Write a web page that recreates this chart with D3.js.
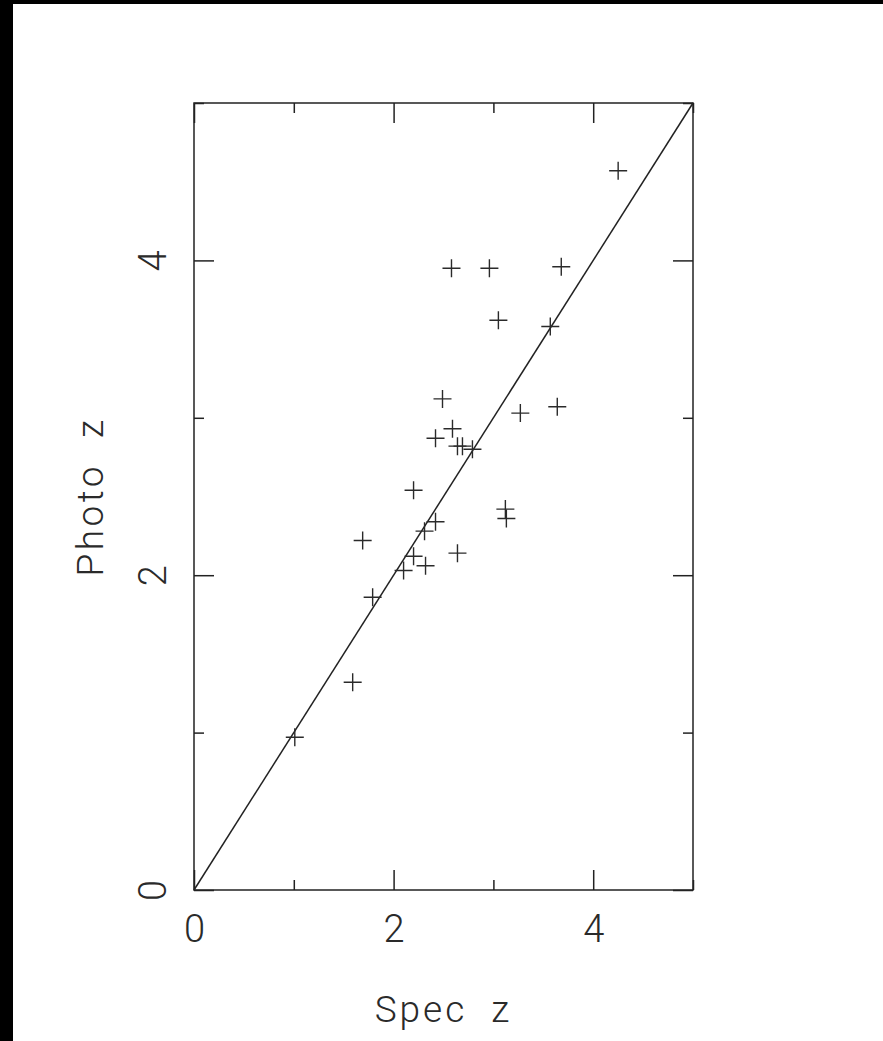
<!DOCTYPE html>
<html>
<head>
<meta charset="utf-8">
<script src="https://cdn.jsdelivr.net/npm/d3@7"></script>
<style>
  html, body { margin: 0; padding: 0; background: #fff; }
  svg { display: block; }
  text { font-family: Roboto, "Open Sans", sans-serif; font-weight: 300; fill: #2a2a2a; }
</style>
</head>
<body>
<div id="chart"></div>
<script>
// spectroscopic vs photometric redshift
const specZ  = [4.25, 2.58, 2.96, 3.68, 3.05, 3.57, 2.49, 3.64, 3.27, 2.59,
                2.42, 2.64, 2.69, 2.79, 2.20, 1.69, 3.12, 3.13, 2.42, 2.31,
                2.64, 2.20, 2.32, 2.10, 1.79, 1.59, 1.01]
const photoZ = [4.57, 3.95, 3.95, 3.96, 3.62, 3.58, 3.12, 3.07, 3.03, 2.93,
                2.87, 2.82, 2.82, 2.80, 2.54, 2.22, 2.42, 2.36, 2.34, 2.28,
                2.14, 2.12, 2.06, 2.03, 1.86, 1.32, 0.97]
const majorTicks = [0, 2, 4]
const minorTicks = [1, 3, 5]
const domain = [0, 5]

const W = 883, H = 1041
const margin = {top: 103, left: 194, right: 190, bottom: 151}
const w = W - margin.left - margin.right,
      h = H - margin.top - margin.bottom

const svg = d3.select("#chart").append("svg")
    .attr("width", W)
    .attr("height", H)

// black frame strips at top and left of the page
svg.append("rect").attr("x", 0).attr("y", 0).attr("width", W).attr("height", 4).attr("fill", "#000")
svg.append("rect").attr("x", 0).attr("y", 0).attr("width", 13).attr("height", H).attr("fill", "#000")

const g = svg.append("g")
    .attr("transform", `translate(${margin.left}, ${margin.top})`)

const x = d3.scaleLinear().domain(domain).range([0, w])
const y = d3.scaleLinear().domain(domain).range([h, 0])

// box
g.append("rect")
    .attr("x", 0).attr("y", 0)
    .attr("width", w).attr("height", h)
    .attr("fill", "none")
    .attr("stroke", "#222")
    .attr("stroke-width", 1.5)

function styleAxis(sel) {
    sel.select(".domain").remove()
    sel.selectAll(".tick line").attr("stroke", "#222").attr("stroke-width", 1.5)
    return sel
}

// inward ticks on all four sides
const sides = [
    {axis: d3.axisBottom, scale: x, tr: `translate(0, ${h})`},
    {axis: d3.axisTop, scale: x, tr: `translate(0, 0)`},
    {axis: d3.axisLeft, scale: y, tr: `translate(0, 0)`},
    {axis: d3.axisRight, scale: y, tr: `translate(${w}, 0)`}
]
sides.forEach(s => {
    g.append("g").attr("transform", s.tr)
        .call(s.axis(s.scale).tickValues(majorTicks).tickSize(-20).tickFormat(""))
        .call(styleAxis)
    g.append("g").attr("transform", s.tr)
        .call(s.axis(s.scale).tickValues(minorTicks).tickSize(-10).tickFormat(""))
        .call(styleAxis)
})

// tick labels
const xLab = g.append("g").attr("transform", `translate(0, ${h})`)
    .call(d3.axisBottom(x).tickValues(majorTicks).tickSize(0).tickFormat(d3.format("d")))
xLab.select(".domain").remove()
xLab.selectAll("text")
    .attr("y", 52).attr("dy", 0)
    .attr("font-size", 38)
    .attr("font-family", null)
    .attr("fill", "#2a2a2a")

const yLab = g.append("g")
    .call(d3.axisLeft(y).tickValues(majorTicks).tickSize(0).tickFormat(d3.format("d")))
yLab.select(".domain").remove()
yLab.selectAll("text")
    .attr("x", 0).attr("dy", 0)
    .attr("text-anchor", "middle")
    .attr("transform", "translate(-28, 0) rotate(-90)")
    .attr("font-size", 38)
    .attr("font-family", null)
    .attr("fill", "#2a2a2a")

// y = x line
g.append("line")
    .attr("x1", x(0)).attr("y1", y(0))
    .attr("x2", x(5)).attr("y2", y(5))
    .attr("stroke", "#222")
    .attr("stroke-width", 1.5)

// plus markers
const pts = specZ.map((s, i) => ({s: s, p: photoZ[i]}))
const arm = 9
g.append("g").selectAll("path")
    .data(pts)
    .join("path")
    .attr("d", d => `M${x(d.s) - arm},${y(d.p)}H${x(d.s) + arm}M${x(d.s)},${y(d.p) - arm}V${y(d.p) + arm}`)
    .attr("stroke", "#2a2a2a")
    .attr("stroke-width", 1.4)
    .attr("fill", "none")

// axis titles
svg.append("text")
    .attr("x", margin.left + w / 2)
    .attr("y", 1022)
    .attr("text-anchor", "middle")
    .attr("font-size", 37)
    .attr("letter-spacing", 3)
    .style("white-space", "pre")
    .text("Spec  z")

svg.append("text")
    .attr("transform", `translate(103, ${margin.top + h / 2}) rotate(-90)`)
    .attr("text-anchor", "middle")
    .attr("font-size", 37)
    .attr("letter-spacing", 3.5)
    .style("white-space", "pre")
    .text("Photo  z")
</script>
</body>
</html>
